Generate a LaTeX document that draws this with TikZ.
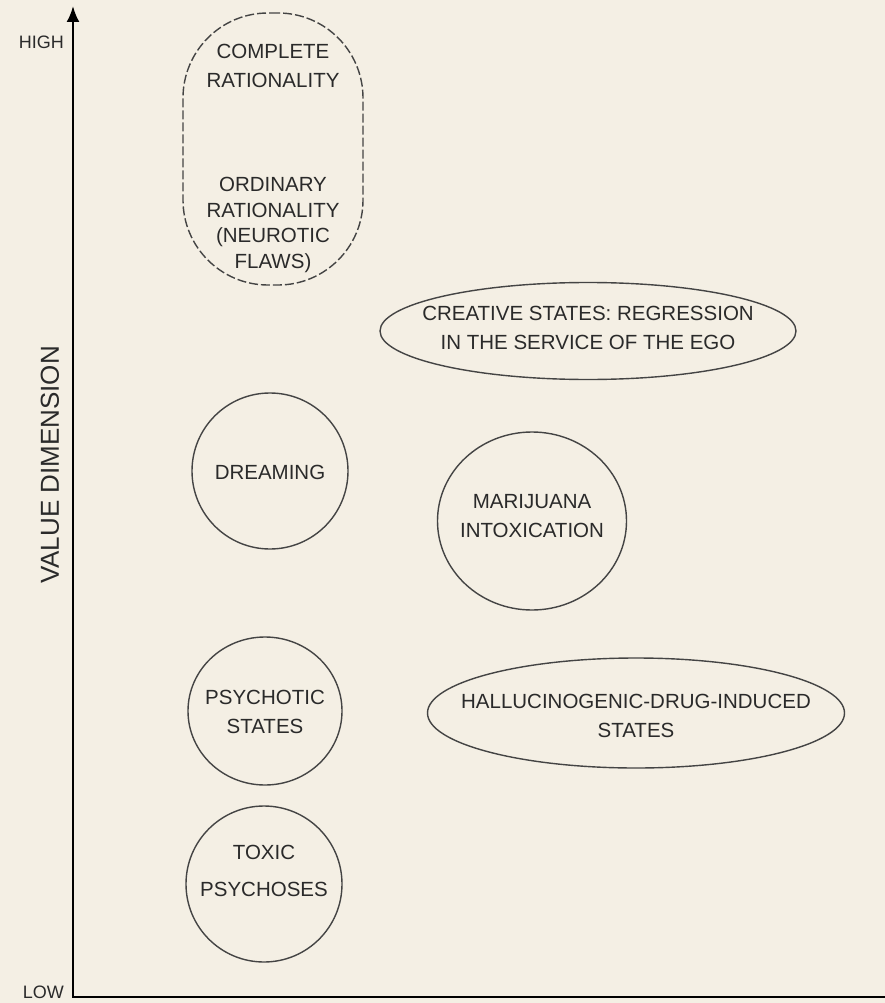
\documentclass[tikz,border=0pt]{standalone}
\usepackage{fontspec}
\setmainfont{Liberation Sans}
\usetikzlibrary{shapes.geometric,arrows.meta}
\definecolor{paper}{HTML}{F4EFE4}
\definecolor{ink}{HTML}{444444}
\definecolor{textink}{HTML}{2A2A2A}
\begin{document}
\begin{tikzpicture}[x=1pt,y=-1pt,
  shapeline/.style={draw=ink, line width=1.4pt},
  oval/.style={shapeline, ellipse, inner sep=0pt},
  lbl/.style={text=textink, font=\fontsize{20.5}{29}\selectfont, align=center, inner sep=0pt},
  axisline/.style={draw=black, line width=2.4pt},
  axislbl/.style={text=textink, font=\fontsize{18}{20}\selectfont, inner sep=0pt}]
\fill[paper] (0,0) rectangle (885,1003);
\useasboundingbox (0,0) rectangle (885,1003);
% axes
\coordinate (top) at (73,6);
\coordinate (orig) at (73,997);
\coordinate (right) at (885,997);
\draw[axisline, {Latex[length=16pt,width=13pt]}-] (top) -- (orig) -- (right);
\node[axislbl, anchor=east] (high) at (64,42) {HIGH};
\node[axislbl, anchor=east] (low) at (64,992) {LOW};
\node[axislbl, font=\fontsize{26}{28}\selectfont, rotate=90] (vd) at (50,465) {VALUE DIMENSION};
% rationality stadium
\node[shapeline, dashed, dash pattern=on 9pt off 3pt, rectangle, rounded corners=85pt,
      minimum width=180pt, minimum height=272pt, inner sep=0pt] (rat) at (273,149) {};
\node[lbl] (complete) at (273,66) {COMPLETE\\RATIONALITY};
\node[lbl, font=\fontsize{20.5}{25.5}\selectfont] (ordinary) at (273,225) {ORDINARY\\RATIONALITY\\(NEUROTIC\\FLAWS)};
% creative
\node[oval, minimum width=416pt, minimum height=97pt] (creative) at (588,331) {};
\node[lbl] (creativet) at (588,328) {CREATIVE STATES: REGRESSION\\IN THE SERVICE OF THE EGO};
% dreaming
\node[oval, minimum width=156pt, minimum height=156pt] (dream) at (270,471) {};
\node[lbl] (dreamt) at (270,472) {DREAMING};
% marijuana
\node[oval, minimum width=189pt, minimum height=178pt] (mari) at (532,521) {};
\node[lbl] (marit) at (532,516) {MARIJUANA\\INTOXICATION};
% psychotic
\node[oval, minimum width=154pt, minimum height=148pt] (psy) at (265,711) {};
\node[lbl] (psyt) at (265,712) {PSYCHOTIC\\STATES};
% hallucinogenic
\node[oval, minimum width=417pt, minimum height=110pt] (hall) at (636,713) {};
\node[lbl] (hallt) at (636,716) {HALLUCINOGENIC-DRUG-INDUCED\\STATES};
% toxic
\node[oval, minimum width=156pt, minimum height=156pt] (toxic) at (264,884) {};
\node[lbl, font=\fontsize{20.5}{37}\selectfont] (toxict) at (264,871) {TOXIC\\PSYCHOSES};
\end{tikzpicture}
\end{document}
